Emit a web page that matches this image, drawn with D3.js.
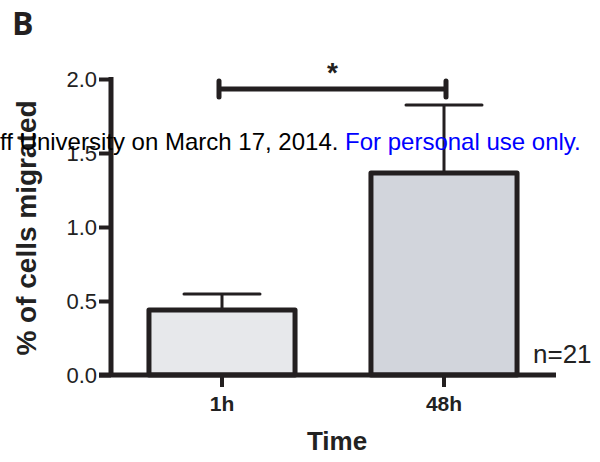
<!DOCTYPE html>
<html><head><meta charset="utf-8">
<script src="https://cdn.jsdelivr.net/npm/d3@7"></script>
<style>body{margin:0;background:#fff}svg{display:block}</style>
</head><body>
<script>
const categories = ["1h", "48h"];
const values = [0.44, 1.365];
const errors = [0.107, 0.46];
const yTicks = [0.0, 0.5, 1.0, 1.5, 2.0];
const fills = ["#e7e8eb", "#d2d5dc"];

const W = 600, H = 462;
const svg = d3.select("body").append("svg").attr("width", W).attr("height", H);
const ink = "#231f20";
const FF = "'Liberation Sans', Arial, Helvetica, sans-serif";

const y = d3.scaleLinear().domain([0, 2]).range([375, 79]);
const x = d3.scaleBand().domain(categories).range([111, 555]).paddingInner(0.342).paddingOuter(0.171);

// bars
svg.selectAll("rect.bar").data(categories).join("rect")
  .attr("x", d => x(d)).attr("width", x.bandwidth())
  .attr("y", (d, i) => y(values[i])).attr("height", (d, i) => y(0) - y(values[i]))
  .attr("fill", (d, i) => fills[i]).attr("stroke", ink).attr("stroke-width", 5)
  .attr("stroke-linejoin", "round");

// error bars
const cap = 76;
categories.forEach((c, i) => {
  const cx = x(c) + x.bandwidth() / 2;
  svg.append("line").attr("x1", cx).attr("x2", cx)
    .attr("y1", y(values[i])).attr("y2", y(values[i] + errors[i]))
    .attr("stroke", ink).attr("stroke-width", 3);
  svg.append("line").attr("x1", cx - cap / 2).attr("x2", cx + cap / 2)
    .attr("y1", y(values[i] + errors[i])).attr("y2", y(values[i] + errors[i]))
    .attr("stroke", ink).attr("stroke-width", 3).attr("stroke-linecap", "round");
});

// y axis
const yAxis = svg.append("g").attr("transform", "translate(111,0)")
  .call(d3.axisLeft(y).tickValues(yTicks).tickFormat(d3.format(".1f")).tickSize(12).tickPadding(2));
yAxis.select(".domain").remove();
yAxis.selectAll(".tick line").attr("stroke", ink).attr("stroke-width", 4);
yAxis.selectAll(".tick text").attr("font-family", FF)
  .attr("font-size", 22).attr("fill", "#222");
svg.append("line").attr("x1", 111).attr("x2", 111).attr("y1", 77).attr("y2", 377)
  .attr("stroke", ink).attr("stroke-width", 5);

// x axis
const xAxis = svg.append("g").attr("transform", "translate(0,375)")
  .call(d3.axisBottom(x).tickSize(12).tickPadding(9));
xAxis.select(".domain").remove();
xAxis.selectAll(".tick line").attr("stroke", ink).attr("stroke-width", 4);
xAxis.selectAll(".tick text").attr("font-family", FF)
  .attr("font-size", 21).attr("font-weight", "bold").attr("fill", "#222");
svg.append("line").attr("x1", 99).attr("x2", 556).attr("y1", 375).attr("y2", 375)
  .attr("stroke", ink).attr("stroke-width", 5);

// significance bracket
const x1 = x(categories[0]) + x.bandwidth() / 2 - 3, x2 = x(categories[1]) + x.bandwidth() / 2 + 2;
const sy = 89;
svg.append("line").attr("x1", x1).attr("x2", x2).attr("y1", sy).attr("y2", sy)
  .attr("stroke", ink).attr("stroke-width", 5);
[x1, x2].forEach(xx => svg.append("line").attr("x1", xx).attr("x2", xx).attr("y1", sy - 8).attr("y2", sy + 8)
  .attr("stroke", ink).attr("stroke-width", 5).attr("stroke-linecap", "round"));
svg.append("text").attr("x", (x1 + x2) / 2).attr("y", 82).attr("text-anchor", "middle")
  .attr("font-family", FF).attr("font-size", 28).attr("font-weight", "bold")
  .attr("fill", ink).text("*");

// labels
svg.append("text").attr("x", 12).attr("y", 35)
  .attr("font-family", "'Open Sans', sans-serif").attr("font-weight", "bold").attr("font-size", 32)
  .attr("fill", ink).text("B");
svg.append("text").attr("transform", "translate(36,228) rotate(-90)").attr("text-anchor", "middle")
  .attr("font-family", FF).attr("font-weight", "bold").attr("font-size", 28)
  .attr("fill", "#222").text("% of cells migrated");
svg.append("text").attr("x", 337).attr("y", 450).attr("text-anchor", "middle")
  .attr("font-family", FF).attr("font-weight", "bold").attr("font-size", 26)
  .attr("fill", "#222").text("Time");
svg.append("text").attr("x", 533).attr("y", 363)
  .attr("font-family", FF).attr("font-size", 26)
  .attr("fill", "#222").text("n=21");

// watermark (drawn on top, as in the reference)
const wm = svg.append("text").attr("x", 0).attr("y", 150)
  .attr("font-family", FF).attr("font-size", 24).attr("fill", "#000");
wm.append("tspan").text("ff University on March 17, 2014. ");
wm.append("tspan").attr("fill", "#0000ff").text("For personal use only.");
</script>
</body></html>
